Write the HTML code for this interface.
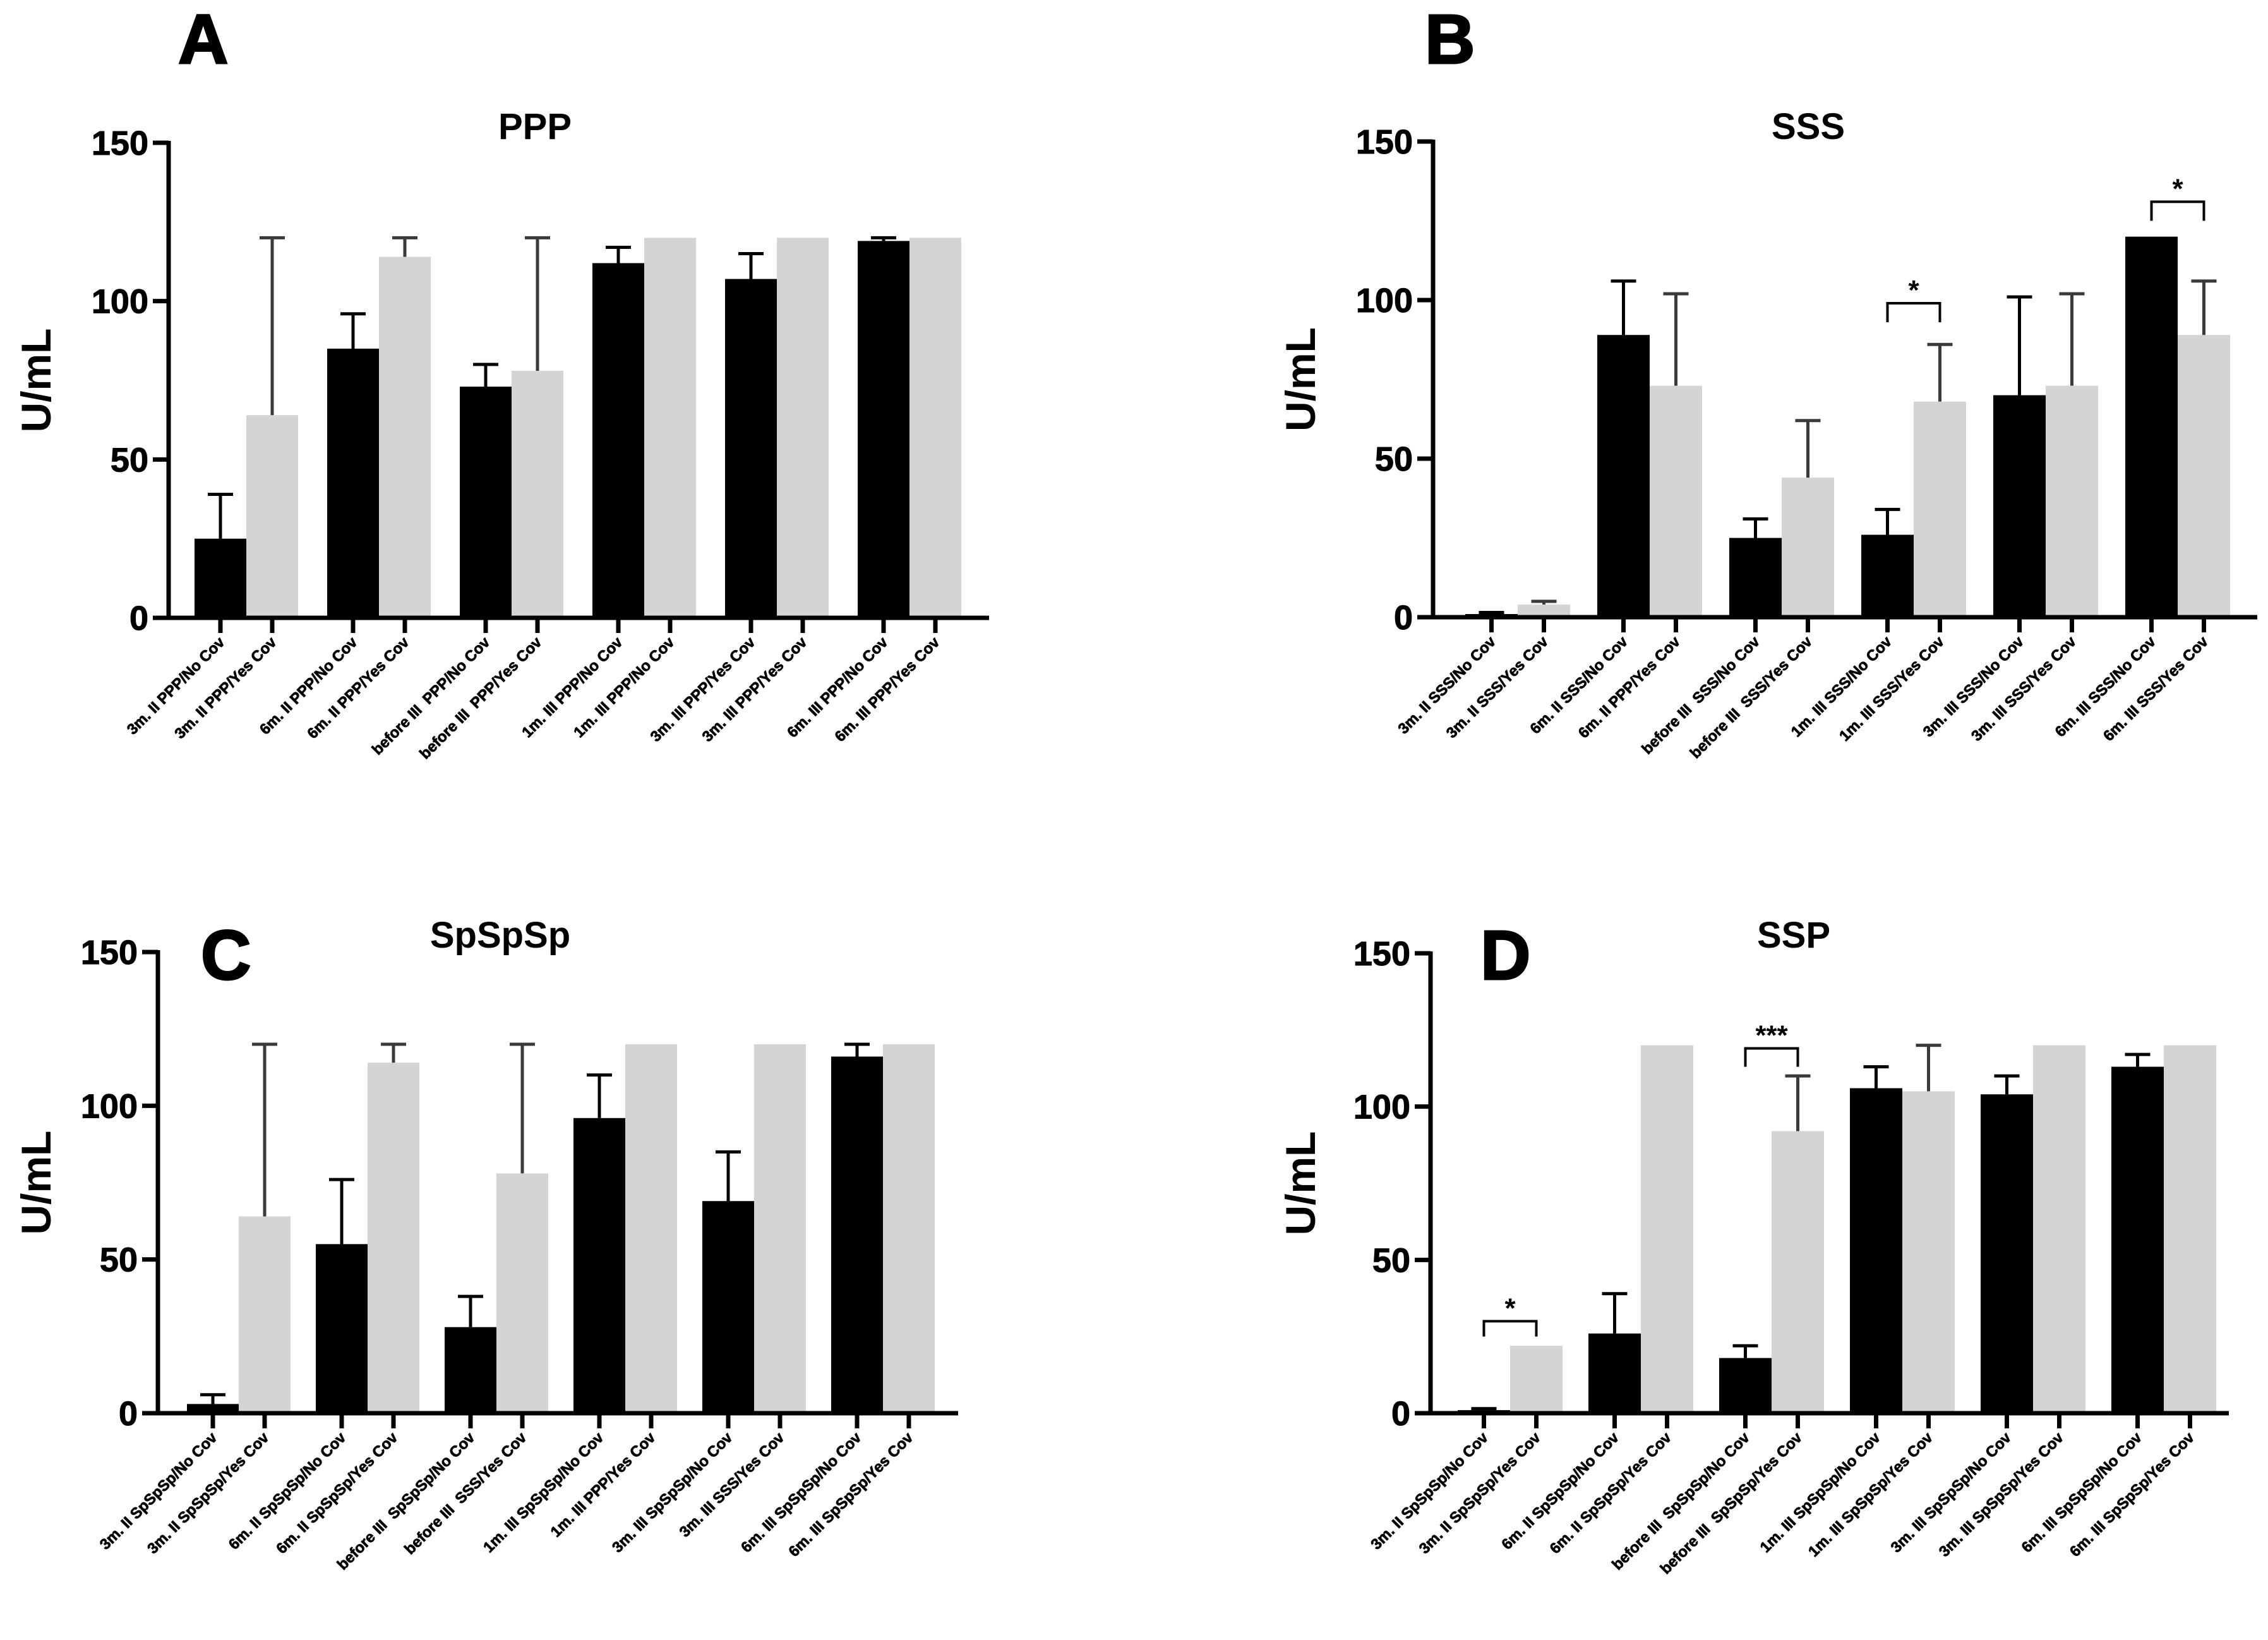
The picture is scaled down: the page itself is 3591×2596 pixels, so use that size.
<!DOCTYPE html>
<html><head><meta charset="utf-8"><style>
html,body{margin:0;padding:0;background:#fff;}
svg{display:block;font-family:"Liberation Sans",Arial,sans-serif;font-weight:bold;}
text{white-space:pre;}
</style></head><body>
<svg id="fig" width="3591" height="2596" viewBox="0 0 3591 2596" xmlns="http://www.w3.org/2000/svg"></svg>
<script>
// Panel A (PPP)
const catsA = ["3m. II PPP/No Cov","3m. II PPP/Yes Cov","6m. II PPP/No Cov","6m. II PPP/Yes Cov","before III  PPP/No Cov","before III  PPP/Yes Cov","1m. III PPP/No Cov","1m. III PPP/No Cov","3m. III PPP/Yes Cov","3m. III PPP/Yes Cov","6m. III PPP/No Cov","6m. III PPP/Yes Cov"];
const blackA = [25, 85, 73, 112, 107, 119];
const blackErrA = [39, 96, 80, 117, 115, 120];
const grayA = [64, 114, 78, 120, 120, 120];
const grayErrA = [120, 120, 120, null, null, null];
// Panel B (SSS)
const catsB = ["3m. II SSS/No Cov","3m. II SSS/Yes Cov","6m. II SSS/No Cov","6m. II PPP/Yes Cov","before III  SSS/No Cov","before III  SSS/Yes Cov","1m. III SSS/No Cov","1m. III SSS/Yes Cov","3m. III SSS/No Cov","3m. III SSS/Yes Cov","6m. III SSS/No Cov","6m. III SSS/Yes Cov"];
const blackB = [1, 89, 25, 26, 70, 120];
const blackErrB = [1.5, 106, 31, 34, 101, null];
const grayB = [4, 73, 44, 68, 73, 89];
const grayErrB = [5, 102, 62, 86, 102, 106];
// Panel C (SpSpSp)
const catsC = ["3m. II SpSpSp/No Cov","3m. II SpSpSp/Yes Cov","6m. II SpSpSp/No Cov","6m. II SpSpSp/Yes Cov","before III  SpSpSp/No Cov","before III  SSS/Yes Cov","1m. III SpSpSp/No Cov","1m. III PPP/Yes Cov","3m. III SpSpSp/No Cov","3m. III SSS/Yes Cov","6m. III SpSpSp/No Cov","6m. III SpSpSp/Yes Cov"];
const blackC = [3, 55, 28, 96, 69, 116];
const blackErrC = [6, 76, 38, 110, 85, 120];
const grayC = [64, 114, 78, 120, 120, 120];
const grayErrC = [120, 120, 120, null, null, null];
// Panel D (SSP)
const catsD = ["3m. II SpSpSp/No Cov","3m. II SpSpSp/Yes Cov","6m. II SpSpSp/No Cov","6m. II SpSpSp/Yes Cov","before III  SpSpSp/No Cov","before III  SpSpSp/Yes Cov","1m. III SpSpSp/No Cov","1m. III SpSpSp/Yes Cov","3m. III SpSpSp/No Cov","3m. III SpSpSp/Yes Cov","6m. III SpSpSp/No Cov","6m. III SpSpSp/Yes Cov"];
const blackD = [1, 26, 18, 106, 104, 113];
const blackErrD = [1.5, 39, 22, 113, 110, 117];
const grayD = [22, 120, 92, 105, 120, 120];
const grayErrD = [null, null, 110, 120, null, null];
// significance: group index, label, bracket top value, leg bottom value
const sigB = [[3, "*", 99, 93], [5, "*", 131, 125]];
const sigD = [[0, "*", 30, 25], [2, "***", 119, 113]];
const yTicks = [0, 50, 100, 150];

const NS = "http://www.w3.org/2000/svg";
const svg = document.getElementById('fig');
function mk(tag, attrs, parent) {
  const e = document.createElementNS(NS, tag);
  for (const k in attrs) e.setAttribute(k, attrs[k]);
  (parent || svg).appendChild(e);
  return e;
}

function panel(cfg) {
  const g = mk('g', {});
  
  
  const y = v => cfg.y0 - (cfg.y0 - cfg.y150) * v / 150;
  const bx = i => cfg.first + Math.floor(i / 2) * cfg.pitch + (i % 2) * cfg.bw;
  for (let k = 0; k < cfg.black.length; k++) {
    const vals = [[cfg.black[k], cfg.blackErr[k], '#000', '#000'], [cfg.gray[k], cfg.grayErr[k], '#d4d4d4', '#3a3a3a']];
    vals.forEach((d, j) => {
      const i = k * 2 + j, x = bx(i);
      const r = mk('rect', {x: x, y: y(d[0]), width: cfg.bw, height: cfg.y0 - y(d[0]), fill: d[2]}, g);
      
      
      if (d[1] != null) {
        const cx = x + cfg.bw / 2;
        const eg = mk('g', {stroke: d[3], 'stroke-width': 5, fill: 'none'}, g);
        
        
        mk('line', {x1: cx, x2: cx, y1: y(d[0]), y2: y(d[1])}, eg);
        mk('line', {x1: cx - 20, x2: cx + 20, y1: y(d[1]), y2: y(d[1])}, eg);
      }
    });
  }
  const ax = mk('g', {stroke: '#000', 'stroke-width': 7, fill: 'none'}, g);
  
  
  mk('line', {x1: cfg.ax, x2: cfg.ax, y1: cfg.y150 - 3, y2: cfg.y0 + 3}, ax);
  mk('line', {x1: cfg.ax - 25, x2: cfg.xend, y1: cfg.y0, y2: cfg.y0}, ax);
  yTicks.forEach(t => {
    mk('line', {x1: cfg.ax - 25, x2: cfg.ax, y1: y(t), y2: y(t)}, ax);
    const tl = mk('text', {x: cfg.ax - 32, y: y(t) + 19, 'font-size': 54, 'text-anchor': 'end', stroke: '#000', 'stroke-width': 1}, g);
    
    
    tl.textContent = t;
  });
  cfg.cats.forEach((c, i) => {
    const cx = bx(i) + cfg.bw / 2;
    mk('line', {x1: cx, x2: cx, y1: cfg.y0, y2: cfg.y0 + 24}, ax);
    const tx = cx + 8, ty = cfg.y0 + 40;
    const t = mk('text', {x: tx, y: ty, 'font-size': 24, 'text-anchor': 'end', stroke: '#000', 'stroke-width': 0.8, transform: 'rotate(-45 ' + tx + ' ' + ty + ')'}, g);
    
    
    t.textContent = c;
  });
  (cfg.sig || []).forEach(s => {
    const x1 = bx(s[0] * 2) + cfg.bw / 2, x2 = bx(s[0] * 2 + 1) + cfg.bw / 2;
    const bg = mk('g', {stroke: '#000', 'stroke-width': 4, fill: 'none'}, g);
    
    
    mk('path', {d: 'M' + x1 + ' ' + y(s[3]) + 'V' + y(s[2]) + 'H' + x2 + 'V' + y(s[3])}, bg);
    const st = mk('text', {x: (x1 + x2) / 2, y: y(s[2]) - 6, 'font-size': 44, 'text-anchor': 'middle'}, g);
    
    
    st.textContent = s[1];
  });
  const ym = (cfg.y0 + cfg.y150) / 2;
  const yl = mk('text', {x: cfg.ylx, y: ym, 'font-size': 66, 'text-anchor': 'middle', transform: 'rotate(-90 ' + cfg.ylx + ' ' + ym + ')'}, g);
  
  
  yl.textContent = 'U/mL';
  const ti = mk('text', {x: cfg.tx, y: cfg.ty, 'font-size': 58, 'text-anchor': 'middle'}, g);
  
  
  ti.textContent = cfg.title;
  const le = mk('text', {x: cfg.lx, y: cfg.ly, 'font-size': 110, stroke: '#000', 'stroke-width': 3}, g);
  
  
  le.textContent = cfg.letter;
}

panel({letter: 'A', title: 'PPP', cats: catsA, black: blackA, blackErr: blackErrA, gray: grayA, grayErr: grayErrA,
  ax: 267, xend: 1566, y0: 978, y150: 226, first: 308, pitch: 210, bw: 82, ylx: 80, tx: 847, ty: 220, lx: 282, ly: 100});
panel({letter: 'B', title: 'SSS', cats: catsB, black: blackB, blackErr: blackErrB, gray: grayB, grayErr: grayErrB, sig: sigB,
  ax: 2269, xend: 3574, y0: 977, y150: 224, first: 2320, pitch: 209, bw: 83, ylx: 2082, tx: 2863, ty: 220, lx: 2256, ly: 100});
panel({letter: 'C', title: 'SpSpSp', cats: catsC, black: blackC, blackErr: blackErrC, gray: grayC, grayErr: grayErrC,
  ax: 250, xend: 1517, y0: 2237, y150: 1507, first: 296, pitch: 204, bw: 82, ylx: 80, tx: 792, ty: 1500, lx: 318, ly: 1550});
panel({letter: 'D', title: 'SSP', cats: catsD, black: blackD, blackErr: blackErrD, gray: grayD, grayErr: grayErrD, sig: sigD,
  ax: 2265, xend: 3529, y0: 2237, y150: 1509, first: 2308, pitch: 207, bw: 83, ylx: 2082, tx: 2840, ty: 1500, lx: 2344, ly: 1550});
</script>
</body></html>
